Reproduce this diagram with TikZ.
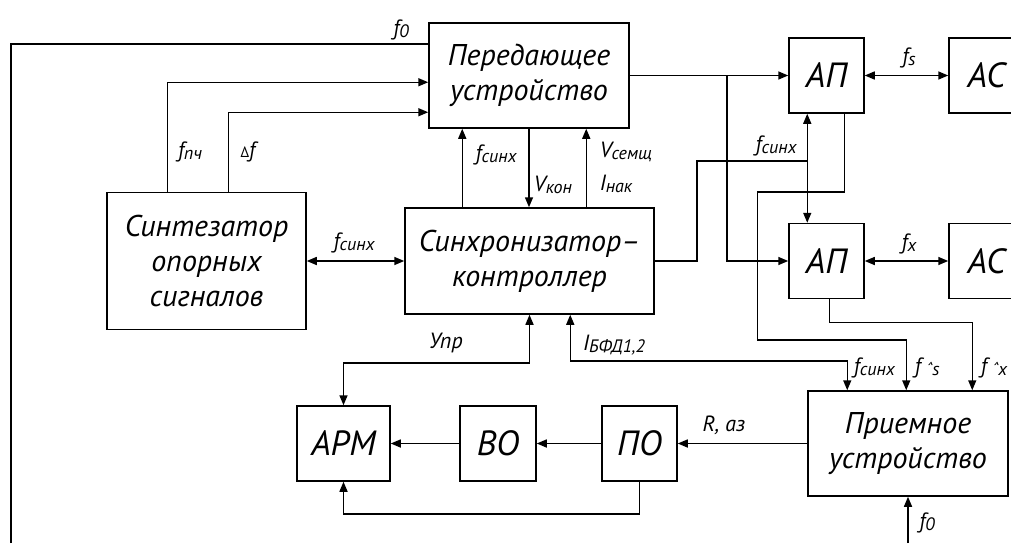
\documentclass[tikz,border=0pt]{standalone}
\usepackage{fontspec}
\setmainfont{PT Sans}
\usetikzlibrary{arrows.meta,calc}
\newcommand\bigfnt{\fontsize{30}{35}\selectfont\itshape}
\newcommand\midfnt{\fontsize{35}{40}\selectfont\itshape}
\newcommand\lblfnt{\fontsize{22}{24}\selectfont\itshape}
\newcommand\subx[1]{\raisebox{-2pt}{\fontsize{18}{18}\selectfont #1}}
\begin{document}
\begin{tikzpicture}[x=1pt,y=-1pt,line width=1.5pt,
  blk/.style={draw,line width=1.5pt,inner sep=0pt,align=center,font=\bigfnt},
  sblk/.style={draw,line width=1.5pt,inner sep=0pt,align=center,font=\midfnt,minimum width=75pt,minimum height=75pt},
  lbl/.style={inner sep=0pt,font=\lblfnt},
  arr/.style={-{Triangle[length=10pt,width=8pt]}},
  darr/.style={{Triangle[length=10pt,width=8pt]}-{Triangle[length=10pt,width=8pt]}}]
\useasboundingbox (0,0) rectangle (1011,543);
% blocks
\node[blk,minimum width=200pt,minimum height=105pt] (T) at (529,75.5) {Передающее\\устройство};
\node[blk,minimum width=199pt,minimum height=137pt] (S) at (206.5,261) {Синтезатор\\опорных\\сигналов};
\node[blk,minimum width=249pt,minimum height=106pt] (C) at (529.5,261) {Синхронизатор–\\контроллер};
\node[sblk] (A1) at (826.5,75.5) {АП};
\node[sblk] (A2) at (826.5,261) {АП};
\node[sblk] (AC1) at (986.5,75.5) {АС};
\node[sblk] (AC2) at (986.5,261) {АС};
\node[blk,minimum width=200pt,minimum height=105pt] (R) at (908,443.5) {Приемное\\устройство};
\node[sblk,minimum width=93pt] (APM) at (343.5,443.5) {АРМ};
\node[sblk,minimum width=76pt] (BO) at (498,443.5) {ВО};
\node[sblk] (PO) at (639.5,443.5) {ПО};
% free ends
\coordinate (f0a) at (11,543);
\coordinate (f0b) at (908,543);
\coordinate (br) at (727,75.5);
\coordinate (j1) at (808,161);
% connectors
\draw (f0a) |- ($(T.north west)+(0,22)$);
\draw[arr] ($(S.north west)+(61,0)$) |- ($(T.north west)+(0,60)$);
\draw[arr] ($(S.north west)+(122,0)$) |- ($(T.north west)+(0,90)$);
\draw[darr] (S.east) -- (C.west);
\draw[arr] ($(C.north west)+(58,0)$) -- ($(T.south west)+(34,0)$);
\draw[arr] (T.south) -- (T.south |- C.north);
\draw[arr] ($(C.north west)+(182,0)$) -- ($(T.south west)+(158,0)$);
\draw[arr] (T.east) -- (A1.west);
\draw[arr] (br) |- (A2.west);
\draw[darr] (A1.east) -- (AC1.west);
\draw[darr] (A2.east) -- (AC2.west);
\draw (C.east) -- ++(42,0) |- (j1);
\draw[darr] ($(A1.south west)+(19,0)$) -- ($(A2.north west)+(19,0)$);
\draw[arr] ($(A1.south west)+(56,0)$) -- ++(0,78) -| ++(-87,148) -| ($(R.north west)+(99,0)$);
\draw[arr] ($(A2.south west)+(41,0)$) -- ++(0,23) -| ($(R.north west)+(165,0)$);
\draw[darr] ($(C.south west)+(166,0)$) -- ++(0,46) -| ($(R.north west)+(40,0)$);
\draw[darr] (C.south) -- ++(0,48) -| (APM.north);
\draw[arr] (R.west) -- (PO.east);
\draw[arr] (PO.west) -- (BO.east);
\draw[arr] (BO.west) -- (APM.east);
\draw[arr] (PO.south) -- ++(0,32) -| (APM.south);
\draw[arr] (f0b) -- (R.south);
% labels
\node[lbl] (l1) at (401,30) {f\subx{0}};
\node[lbl] (l2) at (190,152) {f\subx{пч}};
\node[lbl] (l3) at (248,152) {{\fontsize{15}{15}\selectfont Δ}f};
\node[lbl] (l4) at (354,243) {f\subx{синх}};
\node[lbl] (l5) at (496,155) {f\subx{синх}};
\node[lbl] (l6) at (553,185) {V\subx{кон}};
\node[lbl,anchor=west] (l7) at (599,152) {V\subx{семщ}};
\node[lbl,anchor=west] (l8) at (599,184) {I\subx{нак}};
\node[lbl] (l9) at (776,146) {f\subx{синх}};
\node[lbl] (l10) at (909,58) {f\subx{s}};
\node[lbl] (l11) at (909,244) {f\subx{x}};
\node[lbl] (l12) at (614,345) {I\subx{БФД1,2}};
\node[lbl] (l13) at (446,343) {Упр};
\node[lbl,anchor=west] (l14) at (853,368) {f\subx{синх}};
\node[lbl,anchor=west] (l15) at (914,368) {f\,\subx{ˆs}};
\node[lbl,anchor=west] (l16) at (980,368) {f\,\subx{ˆx}};
\node[lbl] (l17) at (724,425) {R, аз};
\node[lbl] (l18) at (927,523) {f\subx{0}};
\end{tikzpicture}
\end{document}
